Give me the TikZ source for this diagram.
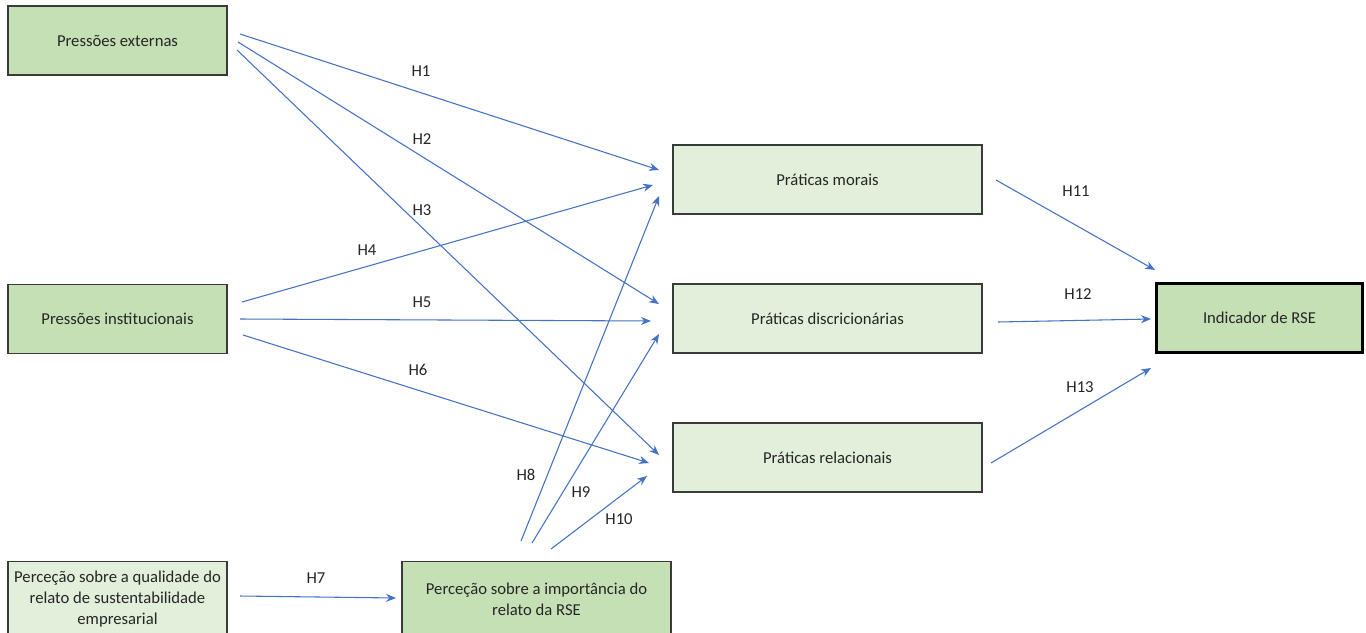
\documentclass[tikz,border=0pt]{standalone}
\usepackage{fontspec}
\setmainfont{Carlito}
\usetikzlibrary{arrows.meta}
\definecolor{dkgreen}{HTML}{C5E0B4}
\definecolor{ltgreen}{HTML}{E2EFDA}
\definecolor{arrowblue}{HTML}{4472C4}
\definecolor{boxline}{HTML}{3A3A3A}
\begin{document}
\begin{tikzpicture}[x=0.75pt,y=-0.75pt,
  box/.style={draw=boxline,line width=1.1pt,inner sep=0pt,align=center,font=\fontsize{12.5}{15.75}\selectfont,text=black!85},
  arr/.style={draw=arrowblue,line width=0.8pt,-{Stealth[length=7.5pt,width=6pt]}},
  lab/.style={font=\fontsize{12.5}{14}\selectfont,text=black!85}]
\useasboundingbox (0,0) rectangle (1366,632);
\fill[white] (0,0) rectangle (1366,632);
% boxes
\node[box,fill=dkgreen,minimum width=164pt,minimum height=52pt] (pe) at (117.5,40.5) {Pressões externas};
\node[box,fill=dkgreen,minimum width=164pt,minimum height=52pt] (pi) at (117.5,319) {Pressões institucionais};
\node[box,fill=ltgreen,minimum width=164pt,minimum height=56pt] (pq) at (117.5,599) {Perceção sobre a qualidade do\\relato de sustentabilidade\\empresarial};
\node[box,fill=dkgreen,minimum width=202pt,minimum height=56pt] (pr) at (536.5,599) {Perceção sobre a importância do\\relato da RSE};
\node[box,fill=ltgreen,minimum width=232pt,minimum height=52pt] (pm) at (827.5,179.5) {Práticas morais};
\node[box,fill=ltgreen,minimum width=232pt,minimum height=52pt] (pd) at (827.5,318.5) {Práticas discricionárias};
\node[box,fill=ltgreen,minimum width=232pt,minimum height=52pt] (pl) at (827.5,457.5) {Práticas relacionais};
\node[box,fill=dkgreen,draw=black,line width=2.2pt,minimum width=155pt,minimum height=52pt] (ir) at (1259.5,318) {Indicador de RSE};
% connector end points
\coordinate (h1a) at (240,34);  \coordinate (h1b) at (659,170);
\coordinate (h2a) at (238,42);  \coordinate (h2b) at (659,304);
\coordinate (h3a) at (237,50);  \coordinate (h3b) at (659,455);
\coordinate (h4a) at (242,302); \coordinate (h4b) at (653,185);
\coordinate (h5a) at (240,319); \coordinate (h5b) at (651,321);
\coordinate (h6a) at (243,335); \coordinate (h6b) at (649,463);
\coordinate (h7a) at (240,596); \coordinate (h7b) at (396,598);
\coordinate (h8a) at (521,541); \coordinate (h8b) at (659,196);
\coordinate (h9a) at (532,543); \coordinate (h9b) at (659,334);
\coordinate (h10a) at (551,549); \coordinate (h10b) at (647,476);
\coordinate (h11a) at (996,180); \coordinate (h11b) at (1155,270);
\coordinate (h12a) at (998,322); \coordinate (h12b) at (1151,319);
\coordinate (h13a) at (991,463); \coordinate (h13b) at (1151,368);
% connectors
\foreach \i in {1,...,13} {\draw[arr] (h\i a) -- (h\i b);}
% labels
\node[lab] (l1) at (421,71) {H1};
\node[lab] (l2) at (422,139) {H2};
\node[lab] (l3) at (422,210) {H3};
\node[lab] (l4) at (367,250) {H4};
\node[lab] (l5) at (422,302) {H5};
\node[lab] (l6) at (418,370) {H6};
\node[lab] (l7) at (316,578) {H7};
\node[lab] (l8) at (526,475) {H8};
\node[lab] (l9) at (581,492) {H9};
\node[lab] (l10) at (619,519) {H10};
\node[lab] (l11) at (1076,191) {H11};
\node[lab] (l12) at (1078,294) {H12};
\node[lab] (l13) at (1080,387) {H13};
\end{tikzpicture}
\end{document}
